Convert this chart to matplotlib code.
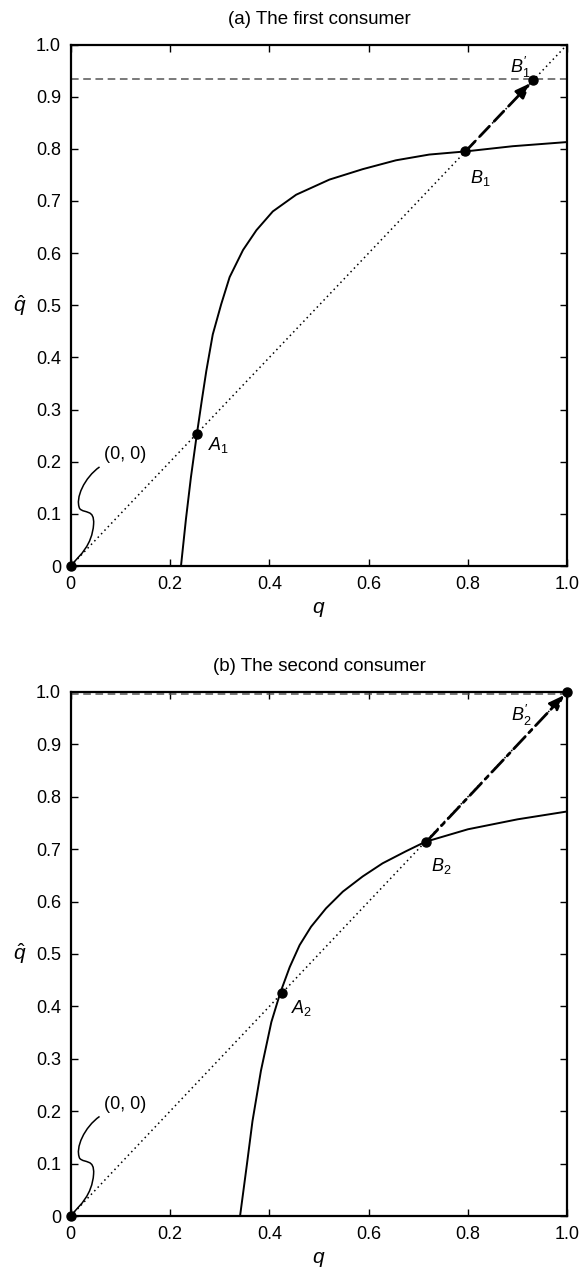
import matplotlib
matplotlib.use('Agg')
import matplotlib.pyplot as plt
from matplotlib.path import Path
from matplotlib.patches import PathPatch

plt.rcParams['font.family'] = ['Liberation Sans', 'DejaVu Sans']
plt.rcParams['mathtext.fontset'] = 'custom'
plt.rcParams['mathtext.it'] = 'Liberation Sans:italic'
plt.rcParams['mathtext.rm'] = 'Liberation Sans'

# curve, panel (a)
q_a = [0.0, 0.222, 0.232, 0.242, 0.254, 0.264, 0.273, 0.286, 0.303, 0.320, 0.347, 0.374,
       0.407, 0.454, 0.521, 0.588, 0.655, 0.722, 0.795, 0.890, 1.0]
qhat_a = [0.0, 0.0, 0.09, 0.17, 0.253, 0.318, 0.374, 0.444, 0.502, 0.554, 0.606, 0.644,
          0.680, 0.712, 0.741, 0.761, 0.778, 0.789, 0.795, 0.805, 0.813]
A1 = (0.254, 0.253)
B1 = (0.795, 0.795)
B1p = (0.932, 0.932)
cap_a = 0.934

# panel (b)
q_b = [0.0, 0.341, 0.355, 0.366, 0.383, 0.404, 0.422, 0.441, 0.461, 0.484, 0.514,
       0.548, 0.588, 0.628, 0.675, 0.714, 0.8, 0.9, 1.0]
qhat_b = [0.0, 0.0, 0.1, 0.181, 0.277, 0.370, 0.426, 0.475, 0.517, 0.552, 0.587,
          0.619, 0.648, 0.673, 0.696, 0.714, 0.738, 0.757, 0.772]
A2 = (0.425, 0.425)
B2 = (0.716, 0.714)
B2p = (1.0, 1.0)
cap_b = 0.996

xticks = [0, 0.2, 0.4, 0.6, 0.8, 1.0]
xticklabels = ['0', '0.2', '0.4', '0.6', '0.8', '1.0']
yticks = [0, 0.1, 0.2, 0.3, 0.4, 0.5, 0.6, 0.7, 0.8, 0.9, 1.0]
yticklabels = ['0', '0.1', '0.2', '0.3', '0.4', '0.5', '0.6', '0.7', '0.8', '0.9', '1.0']


def squiggle(ax, x0, y0):
    # brace-like leader from the "(0, 0)" label down to the origin
    verts = [(x0, y0), (x0 - 0.03, y0 - 0.02), (x0 - 0.05, y0 - 0.06), (x0 - 0.04, y0 - 0.08),
             (x0 - 0.03, y0 - 0.09), (x0 - 0.01, y0 - 0.08), (x0 - 0.012, y0 - 0.11),
             (x0 - 0.015, y0 - 0.15), (x0 - 0.04, y0 - 0.17), (0.005, 0.006)]
    codes = [Path.MOVETO] + [Path.CURVE4] * 9
    ax.add_patch(PathPatch(Path(verts, codes), fill=False, lw=1.1, color='black', clip_on=False))


def panel(ax, q, qhat, A, B, Bp, cap, title, alab, blab, bplab, arrow_ls, bp_off, a_off, b_off):
    ax.plot([0, 1], [0, 1], ls=(0, (1, 2.2)), color='black', lw=1.1)
    ax.plot(q, qhat, color='black', lw=1.4, solid_joinstyle='round')
    ax.axhline(cap, color='#555555', ls=(0, (5, 3)), lw=1.1)
    ax.annotate('', xy=Bp, xytext=B,
                arrowprops=dict(arrowstyle='-|>,head_length=0.9,head_width=0.35', color='black',
                                lw=2.0, linestyle=arrow_ls, shrinkA=0, shrinkB=3))
    for p in [(0, 0), A, B, Bp]:
        ax.plot(p[0], p[1], 'o', color='black', ms=6.5, clip_on=False, zorder=5)
    ax.text(A[0] + a_off[0], A[1] + a_off[1], alab, fontsize=13)
    ax.text(B[0] + b_off[0], B[1] + b_off[1], blab, fontsize=13)
    ax.text(Bp[0] + bp_off[0], Bp[1] + bp_off[1], bplab, fontsize=13)
    ax.text(0.066, 0.205, '(0, 0)', fontsize=13)
    squiggle(ax, 0.058, 0.19)
    ax.set_xlim(0, 1)
    ax.set_ylim(0, 1)
    ax.set_xticks(xticks)
    ax.set_xticklabels(xticklabels)
    ax.set_yticks(yticks)
    ax.set_yticklabels(yticklabels)
    ax.tick_params(direction='in', top=True, right=True, length=5, width=1, labelsize=13, pad=7)
    for s in ax.spines.values():
        s.set_linewidth(1.6)
    ax.set_xlabel('$q$', fontsize=15, labelpad=5)
    ax.set_ylabel(r'$\hat{q}$', fontsize=15, rotation=0, labelpad=12, va='center')
    ax.set_title(title, fontsize=13.5, pad=15)


fig = plt.figure(figsize=(5.8, 12.72), dpi=100)
ax1 = fig.add_axes([0.122, 0.555, 0.856, 0.410])
ax2 = fig.add_axes([0.122, 0.044, 0.856, 0.412])

panel(ax1, q_a, qhat_a, A1, B1, B1p, cap_a, '(a) The first consumer',
      '$A_1$', '$B_1$', '$B_1^{\u2032}$', (0, (5, 2.5)), (-0.047, 0.013), (0.022, -0.03), (0.01, -0.06))
panel(ax2, q_b, qhat_b, A2, B2, B2p, cap_b, '(b) The second consumer',
      '$A_2$', '$B_2$', '$B_2^{\u2032}$', (0, (6, 2, 1.5, 2)), (-0.113, -0.055), (0.018, -0.038), (0.01, -0.055))

fig.savefig('out.png', dpi=100)
